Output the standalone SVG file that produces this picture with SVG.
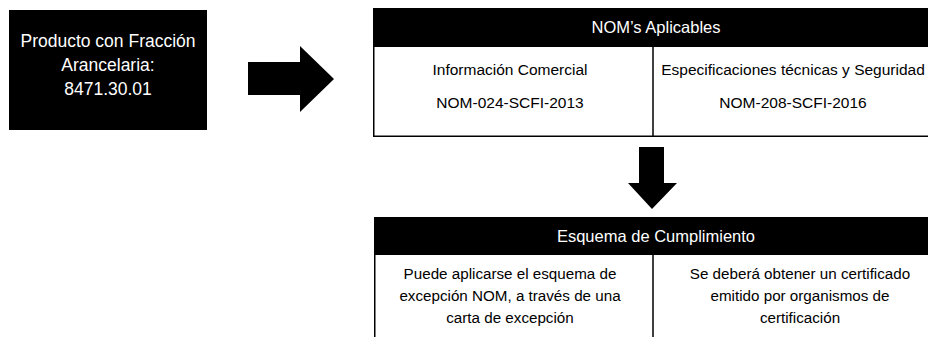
<svg xmlns="http://www.w3.org/2000/svg" width="928" height="337" viewBox="0 0 928 337">
<style>
text { font-family: "Liberation Sans", Arial, sans-serif; text-anchor: middle; fill: #000; }
text.w { fill: #fff; }
.big { font-size: 17.5px; }
.hd { font-size: 16.5px; }
.bd { font-size: 15.5px; }
.sm { font-size: 15.2px; }
.hdr { fill: #000; }
.cell { fill: #fff; stroke: #000; stroke-width: 1.5; }
.rule { stroke: #000; stroke-width: 1.5; fill: none; }
.arrow { fill: #000; }
</style>
<rect width="928" height="337" fill="#fff"/>
<g id="node-producto">
<rect class="hdr" x="9" y="10" width="198" height="120"/>
<text class="w big" x="108" y="47">Producto con Fracción</text>
<text class="w big" x="108" y="71">Arancelaria:</text>
<text class="w big" x="108" y="95">8471.30.01</text>
</g>
<g id="node-noms">
<rect class="cell" x="373.75" y="8.75" width="570" height="127.5"/>
<rect class="hdr" x="373" y="8" width="571" height="39"/>
<line class="rule" x1="653" y1="47" x2="653" y2="136"/>
<text class="w hd" x="656" y="33">NOM’s Aplicables</text>
<text class="bd" x="510" y="75">Información Comercial</text>
<text class="bd" x="510" y="108">NOM-024-SCFI-2013</text>
<text class="bd" x="793" y="75">Especificaciones técnicas y Seguridad</text>
<text class="bd" x="793" y="108">NOM-208-SCFI-2016</text>
</g>
<g id="node-esquema">
<rect class="hdr" x="374" y="217" width="570" height="38"/>
<path class="rule" d="M374.75 255 V337 M653 255 V337"/>
<text class="w hd" x="656" y="242">Esquema de Cumplimiento</text>
<text class="sm" x="510" y="279">Puede aplicarse el esquema de</text>
<text class="sm" x="510" y="301">excepción NOM, a través de una</text>
<text class="sm" x="510" y="323">carta de excepción</text>
<text class="sm" x="800" y="279">Se deberá obtener un certificado</text>
<text class="sm" x="800" y="301">emitido por organismos de</text>
<text class="sm" x="800" y="323">certificación</text>
</g>
<g id="connectors">
<polygon class="arrow" points="248,62 300,62 300,46 334,79 300,112 300,95 248,95"/>
<polygon class="arrow" points="639,147 664,147 664,183 677,183 652,209 628,183 639,183"/>
</g>
</svg>
